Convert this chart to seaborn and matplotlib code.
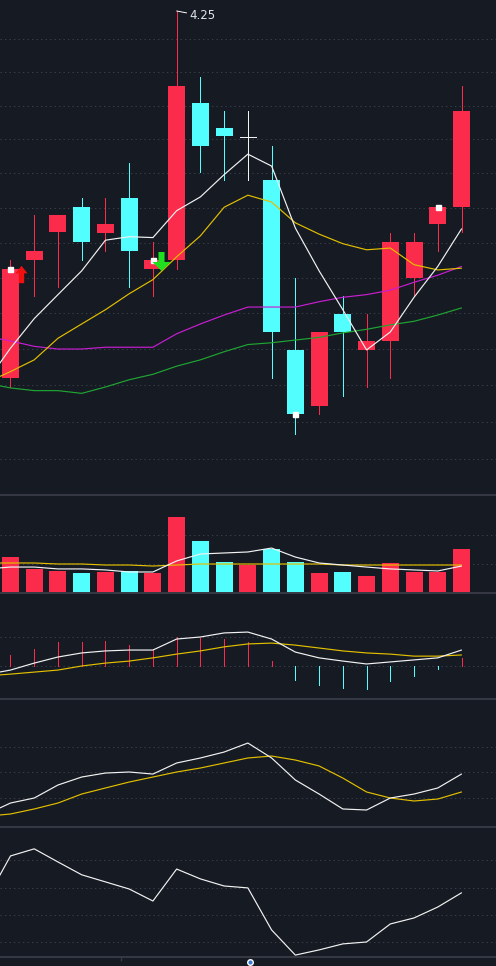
import numpy as np
import matplotlib
matplotlib.use('Agg')
import matplotlib.pyplot as plt
import seaborn as sns

# daily candles (20 sessions)
opens  = [3.823, 3.955, 3.987, 4.016, 3.986, 4.027, 3.945, 3.955, 4.139, 4.109,
          4.098, 4.048, 3.854, 3.792, 3.894, 3.854, 3.864, 3.935, 3.997, 4.016]
highs  = [3.955, 4.007, 4.007, 4.027, 4.027, 4.068, 3.976, 4.250, 4.170, 4.129,
          4.129, 4.088, 3.935, 3.874, 3.914, 3.894, 3.986, 3.986, 4.016, 4.159]
lows   = [3.813, 3.915, 3.925, 3.955, 3.966, 3.925, 3.915, 3.945, 4.057, 4.048,
          4.048, 3.823, 3.762, 3.783, 3.803, 3.813, 3.823, 3.915, 3.966, 3.987]
closes = [3.945, 3.966, 4.007, 3.976, 3.997, 3.966, 3.955, 4.159, 4.088, 4.099,
          4.098, 3.874, 3.783, 3.874, 3.874, 3.864, 3.976, 3.976, 4.016, 4.129]

# moving averages, first value belongs to the session just left of the window
ma5  = [3.819, 3.856, 3.889, 3.916, 3.943, 3.978, 3.982, 3.981, 4.012, 4.028, 4.054,
        4.078, 4.064, 3.992, 3.943, 3.899, 3.854, 3.874, 3.913, 3.948, 3.991]
ma10 = [3.818, 3.830, 3.843, 3.867, 3.883, 3.899, 3.917, 3.933, 3.959, 3.983, 4.016,
        4.030, 4.022, 3.998, 3.985, 3.974, 3.967, 3.969, 3.950, 3.944, 3.946]
ma20 = [3.869, 3.864, 3.858, 3.855, 3.855, 3.857, 3.857, 3.857, 3.872, 3.883, 3.893,
        3.902, 3.902, 3.902, 3.908, 3.913, 3.916, 3.921, 3.930, 3.938, 3.948]
ma30 = [3.817, 3.812, 3.809, 3.809, 3.806, 3.813, 3.821, 3.827, 3.836, 3.843, 3.852,
        3.860, 3.862, 3.865, 3.868, 3.873, 3.877, 3.882, 3.886, 3.893, 3.901]

volume   = [24800, 16600, 15200, 13800, 14500, 15200, 13800, 52400, 35900, 21400,
            19300, 30300, 21400, 13800, 14500, 11700, 20700, 14500, 14500, 30300]
vol_ma5  = [16600, 17900, 17900, 16600, 16600, 15900, 14500, 14500, 22100, 26900, 27600,
            28300, 31000, 24800, 20700, 19300, 17900, 16600, 15900, 15200, 18600]
vol_ma10 = [20700, 20700, 20700, 20000, 20000, 19300, 19300, 18600, 19300, 20000, 20000,
            20000, 20000, 20000, 20000, 19300, 19300, 19300, 19300, 19300, 19300]

dif  = [-0.0029, -0.0014, 0.0010, 0.0031, 0.0045, 0.0052, 0.0055, 0.0055, 0.0093, 0.0100, 0.0114,
        0.0117, 0.0093, 0.0048, 0.0028, 0.0017, 0.0007, 0.0014, 0.0021, 0.0028, 0.0055]
dea  = [-0.0034, -0.0028, -0.0021, -0.0014, 0.0000, 0.0010, 0.0017, 0.0028, 0.0041, 0.0052, 0.0066,
        0.0076, 0.0079, 0.0072, 0.0062, 0.0052, 0.0045, 0.0041, 0.0034, 0.0034, 0.0038]
macd = [0.0038, 0.0059, 0.0083, 0.0083, 0.0086, 0.0072, 0.0059, 0.0100, 0.0097, 0.0093,
        0.0083, 0.0017, -0.0048, -0.0066, -0.0076, -0.0079, -0.0052, -0.0034, -0.0010, 0.0028]

osc_fast = [0.6, 13.5, 19.4, 34.7, 44.1, 48.8, 50.0, 47.6, 60.6, 66.5, 73.5,
            84.1, 66.5, 40.6, 24.1, 6.5, 5.3, 19.4, 24.1, 31.2, 47.6]
osc_slow = [-2.0, 0.6, 6.5, 13.5, 24.1, 31.2, 38.2, 44.1, 50.0, 54.7, 60.6,
            66.5, 68.8, 64.1, 57.1, 42.9, 26.5, 19.4, 15.9, 18.2, 26.5]
momentum = [5.9, 21.6, 24.2, 19.4, 14.7, 12.1, 9.5, 5.1, 16.8, 13.2, 10.6,
            9.9, -5.5, -14.7, -12.8, -10.6, -9.9, -3.3, -1.1, 2.9, 8.1]

trade_marks = [0, 6, 12, 18]          # small white squares at the close
buy_idx, buy_price = [0], [3.939]
sell_idx, sell_price = [6], [3.954]
high_label = '4.25'

# colours
bg = '#161a23'
red = '#fb2b4b'
cyan = '#52fefe'
white = '#f2f2f2'
yellow = '#e2bf00'
magenta = '#c81ed2'
green = '#1fa632'
grid_c = '#3b3f49'
sep_c = '#363943'

sns.set_theme(style='dark', rc={'axes.facecolor': bg, 'figure.facecolor': bg,
                                'savefig.facecolor': bg})
plt.rcParams['font.family'] = ['DejaVu Sans']

n = len(closes)
idx = np.arange(n)
idx_ma = np.arange(-1, n)
up = [c >= o for o, c in zip(opens, closes)]
W, H = 496, 966
fig = plt.figure(figsize=(W / 100, H / 100), dpi=100)

bounds = [0, 495, 593, 699, 827, 957]
axes = []
for t, b in zip(bounds[:-1], bounds[1:]):
    axes.append(fig.add_axes([0, (H - b) / H, 1, (b - t) / H]))
ax_p, ax_v, ax_m, ax_k, ax_r = axes

x_lim = (-0.442, 20.453)
body_w = 0.716
dots = (0, (1.3, 3.2))
lw_line = 0.85
lw_thin = 0.62

# ---- price panel ----
ax_p.set_yscale('log')
for i in idx:
    if closes[i] == opens[i]:
        col = white
    else:
        col = red if up[i] else cyan
    ax_p.vlines(i, lows[i], highs[i], color=col, lw=lw_thin, antialiased=False, zorder=2)
    if closes[i] == opens[i]:
        ax_p.hlines(closes[i], i - 0.35, i + 0.35, color=col, lw=lw_thin,
                    antialiased=False, zorder=3)
    else:
        lo, hi = min(opens[i], closes[i]), max(opens[i], closes[i])
        ax_p.bar(i, hi - lo, bottom=lo, width=body_w, color=col, lw=0, zorder=3)

for vals, col in [(ma30, green), (ma20, magenta), (ma10, yellow), (ma5, white)]:
    sns.lineplot(x=idx_ma, y=vals, color=col, lw=lw_line, ax=ax_p, zorder=4)

ax_p.plot(trade_marks, [closes[i] for i in trade_marks], ls='none', marker='s',
          ms=3.6, color='white', zorder=6)

up_arrow = [(0, 1), (0.69, 0.125), (0.31, 0.125), (0.31, -1), (-0.31, -1),
            (-0.31, 0.125), (-0.69, 0.125)]
down_arrow = [(0.32, 1), (0.32, -0.05), (0.95, -0.05), (0, -1), (-0.95, -0.05),
              (-0.32, -0.05), (-0.32, 1)]
ax_p.plot(np.array(buy_idx) + 0.44, buy_price, ls='none', marker=up_arrow, ms=12.5,
          color='#f01010', mew=0, zorder=7)
ax_p.plot(np.array(sell_idx) + 0.36, sell_price, ls='none', marker=down_arrow, ms=13.7,
          color='#1ee01e', mew=0, zorder=7)

top = int(np.argmax(highs))
ax_p.annotate(high_label, xy=(top, highs[top]), xytext=(9.5, -3.6),
              textcoords='offset points', ha='left', va='center', fontsize=8.5,
              color='#dde6f0',
              arrowprops=dict(arrowstyle='-', color='white', lw=0.7,
                              shrinkA=0, shrinkB=0))
ax_p.set_ylim(3.696, 4.2635)
ax_p.set_yticks(np.linspace(3.7346, 4.2158, 13))
ax_p.yaxis.set_minor_locator(matplotlib.ticker.NullLocator())

# ---- volume panel ----
sns.barplot(x=idx, y=volume, hue=['up' if u else 'down' for u in up],
            palette={'up': red, 'down': cyan}, native_scale=True, width=body_w,
            dodge=False, saturation=1, linewidth=0, errorbar=None, legend=False,
            ax=ax_v, zorder=2)
sns.lineplot(x=idx_ma, y=vol_ma10, color=yellow, lw=lw_line, ax=ax_v, zorder=3)
sns.lineplot(x=idx_ma, y=vol_ma5, color=white, lw=lw_line, ax=ax_v, zorder=4)
ax_v.set_ylim(0, 67590)
ax_v.set_yticks([20000, 40000])

# ---- MACD panel ----
ax_m.vlines(idx, 0, macd, colors=[red if v >= 0 else cyan for v in macd], lw=lw_thin,
            antialiased=False, zorder=2)
sns.lineplot(x=idx_ma, y=dea, color=yellow, lw=lw_line, ax=ax_m, zorder=3)
sns.lineplot(x=idx_ma, y=dif, color=white, lw=lw_line, ax=ax_m, zorder=4)
ax_m.set_ylim(-0.01138, 0.02517)
ax_m.set_yticks([0, 0.01])

# ---- oscillator panel ----
sns.lineplot(x=idx_ma, y=osc_slow, color=yellow, lw=lw_line, ax=ax_k, zorder=3)
sns.lineplot(x=idx_ma, y=osc_fast, color=white, lw=lw_line, ax=ax_k, zorder=4)
ax_k.set_ylim(-14.7, 135.9)
ax_k.set_yticks([20, 50, 80])

# ---- momentum panel ----
sns.lineplot(x=idx_ma, y=momentum, color=white, lw=lw_line, ax=ax_r, zorder=4)
ax_r.set_ylim(-15.4, 32.2)
ax_r.set_yticks([-10, 0, 10, 20])

for k, ax in enumerate(axes):
    ax.set_xlim(*x_lim)
    ax.set_facecolor(bg)
    ax.set_xlabel('')
    ax.set_ylabel('')
    ax.grid(axis='y', color=grid_c, linestyle=dots, linewidth=0.72)
    ax.grid(axis='x', visible=False)
    ax.tick_params(axis='both', length=0, labelleft=False, labelbottom=False)
    ax.set_xticks([])
    for s in ax.spines.values():
        s.set_visible(False)
    if k > 0:
        ax.spines['top'].set_visible(True)
        ax.spines['top'].set_color(sep_c)
        ax.spines['top'].set_linewidth(1.4)

ax_r.spines['bottom'].set_visible(True)
ax_r.spines['bottom'].set_color(sep_c)
ax_r.spines['bottom'].set_linewidth(1.4)
ax_r.set_xticks([4.655])
ax_r.tick_params(axis='x', bottom=True, length=3, width=1, color=sep_c,
                 direction='out', labelbottom=False)

fig.add_artist(plt.Line2D([250 / W], [1 - 962 / H], marker='o', ms=4, mfc='#3a7bd5',
                          mec='white', mew=1, transform=fig.transFigure))

fig.savefig('out.png', dpi=100, facecolor=bg)
